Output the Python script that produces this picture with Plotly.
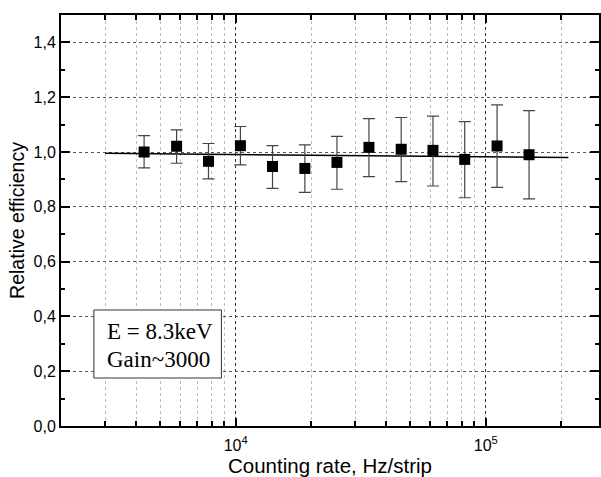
import numpy as np
import plotly.graph_objects as go

# Data
rate = [4300, 5800, 7780, 10440, 14030, 18900, 25400, 34100, 45900, 61500, 82400, 111000, 149000]
eff = [1.000, 1.021, 0.966, 1.023, 0.947, 0.940, 0.962, 1.017, 1.010, 1.006, 0.973, 1.022, 0.990]
err_hi = [1.060, 1.081, 1.031, 1.093, 1.023, 1.026, 1.057, 1.122, 1.126, 1.131, 1.111, 1.172, 1.151]
err_lo = [0.942, 0.959, 0.902, 0.953, 0.867, 0.853, 0.864, 0.910, 0.892, 0.876, 0.833, 0.871, 0.829]
fit_x = [3000, 214000]
fit_y = [0.995, 0.980]

y_ticks = [0.0, 0.2, 0.4, 0.6, 0.8, 1.0, 1.2, 1.4]
y_ticktext = ["0,0", "0,2", "0,4", "0,6", "0,8", "1,0", "1,2", "1,4"]
x_major = [1e4, 1e5]
x_major_text = ["10<sup>4</sup>", "10<sup>5</sup>"]
x_minor = [3000, 4000, 5000, 6000, 7000, 8000, 9000,
           20000, 30000, 40000, 50000, 60000, 70000, 80000, 90000, 200000]

annot_lines = ["E = 8.3keV", "Gain~3000"]

up = [h - v for h, v in zip(err_hi, eff)]
dn = [v - l for l, v in zip(err_lo, eff)]

fig = go.Figure()
fig.add_trace(go.Scatter(
    x=fit_x, y=fit_y, mode="lines",
    line=dict(color="black", width=1.5), showlegend=False, hoverinfo="skip"))
fig.add_trace(go.Scatter(
    x=rate, y=eff, mode="markers",
    marker=dict(symbol="square", size=11, color="black"),
    error_y=dict(type="data", symmetric=False, array=up, arrayminus=dn,
                 color="#444444", thickness=1.2, width=6),
    showlegend=False))

fig.update_layout(
    width=601, height=477,
    margin=dict(l=61, r=0, t=15, b=51),
    paper_bgcolor="white", plot_bgcolor="white",
    font=dict(family="Liberation Sans, Arial, sans-serif", color="black"),
    xaxis=dict(
        type="log",
        range=[np.log10(2000), 5.453],
        tickvals=x_major, ticktext=x_major_text,
        tickfont=dict(size=16),
        ticklabelstandoff=4,
        ticks="inside", ticklen=8, tickwidth=2, tickcolor="black",
        showline=True, linecolor="black", linewidth=2, mirror="allticks",
        showgrid=True, gridcolor="#333333", griddash="dot", gridwidth=1,
        minor=dict(tickvals=x_minor, ticks="inside", ticklen=5, tickwidth=1.5,
                   tickcolor="black", showgrid=True, gridcolor="#bbbbbb",
                   griddash="dot", gridwidth=1),
        title=dict(text="Counting rate, Hz/strip", font=dict(size=20.5), standoff=6),
        zeroline=False,
    ),
    yaxis=dict(
        range=[0, 1.5],
        tickvals=y_ticks, ticktext=y_ticktext,
        tickfont=dict(size=16),
        ticks="inside", ticklen=9, tickwidth=2, tickcolor="black",
        showline=True, linecolor="black", linewidth=2, mirror="allticks",
        showgrid=True, gridcolor="#555555", griddash="dot", gridwidth=1,
        minor=dict(dtick=0.1, tick0=0, ticks="inside", ticklen=4, tickwidth=1.5,
                   tickcolor="black", showgrid=False),
        title=dict(text="Relative efficiency", font=dict(size=19.5), standoff=4),
        zeroline=False,
    ),
)

# Text box
fig.add_shape(type="rect", xref="paper", yref="paper",
              x0=(94 - 61) / 540, x1=(222 - 61) / 540,
              y0=(426 - 378) / 411, y1=(426 - 310) / 411,
              line=dict(color="#333333", width=1), fillcolor="white", layer="above")
for line_text, py in zip(annot_lines, [331, 359]):
    fig.add_annotation(
        xref="paper", yref="paper", x=(105 - 61) / 540, y=(426 - py) / 411,
        xanchor="left", yanchor="middle",
        text=line_text, showarrow=False, align="left",
        font=dict(family="Liberation Serif, Times New Roman, serif", size=23, color="black"),
    )

fig.write_html("out.html")
